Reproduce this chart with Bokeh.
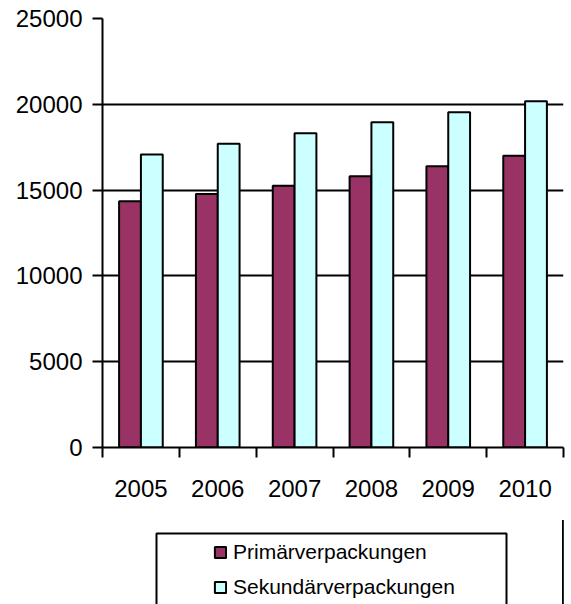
from bokeh.plotting import figure
from bokeh.models import (ColumnDataSource, Range1d, FixedTicker, Legend, LegendItem,
                          BoxAnnotation)
from bokeh.layouts import column
from bokeh.embed import file_html
from bokeh.resources import INLINE
import numpy as np

years = ["2005", "2006", "2007", "2008", "2009", "2010"]
primaer = [14350, 14780, 15250, 15810, 16390, 17000]
sekundaer = [17070, 17700, 18310, 18950, 19540, 20180]
y_ticks = [0, 5000, 10000, 15000, 20000, 25000]
series_names = ["Primärverpackungen", "Sekundärverpackungen"]
series_colors = ["#993366", "#CCFFFF"]

idx = np.arange(len(years))
bar_w = 0.284
src = ColumnDataSource(dict(
    xp=idx + 0.5 - bar_w / 2,
    xs=idx + 0.5 + bar_w / 2,
    prim=primaer,
    sek=sekundaer,
))

p = figure(width=571, height=520, x_range=Range1d(0, len(years)), y_range=Range1d(0, 25000),
           output_backend="svg", toolbar_location=None,
           min_border_left=102, min_border_right=8, min_border_top=18, min_border_bottom=73)
p.outline_line_color = None
p.background_fill_color = "white"
p.border_fill_color = "white"

# grid
p.xgrid.visible = False
p.ygrid.ticker = FixedTicker(ticks=y_ticks)
p.ygrid.grid_line_color = "black"
p.ygrid.grid_line_width = 2

# y axis
yax = p.yaxis[0]
yax.ticker = FixedTicker(ticks=y_ticks)
yax.axis_line_color = "black"
yax.axis_line_width = 2
yax.major_tick_line_width = 2
yax.major_tick_out = 10
yax.major_tick_in = 0
yax.minor_tick_out = 0
yax.minor_tick_in = 0
yax.major_label_standoff = 10
yax.major_label_text_font = "Liberation Sans"
yax.major_label_text_font_size = "24px"
yax.major_label_text_color = "black"

# x axis: labels at centres, ticks at category boundaries
xax = p.xaxis[0]
xax.ticker = FixedTicker(ticks=list(idx + 0.5), minor_ticks=list(range(len(years) + 1)))
xax.major_label_overrides = {float(i + 0.5): y for i, y in enumerate(years)}
xax.axis_line_color = "black"
xax.axis_line_width = 2
xax.major_tick_out = 0
xax.major_tick_in = 0
xax.minor_tick_out = 10
xax.minor_tick_in = 0
xax.minor_tick_line_width = 2
xax.minor_tick_line_color = "black"
xax.major_label_standoff = 22
xax.major_label_text_font = "Liberation Sans"
xax.major_label_text_font_size = "24px"
xax.major_label_text_color = "black"

p.vbar(x="xp", top="prim", width=bar_w, source=src, fill_color=series_colors[0],
       line_color="black", line_width=2)
p.vbar(x="xs", top="sek", width=bar_w, source=src, fill_color=series_colors[1],
       line_color="black", line_width=2)

# legend panel (separate canvas so the legend box can run off the bottom edge)
pl = figure(width=571, height=84, output_backend="svg", toolbar_location=None,
            x_axis_location=None, y_axis_location=None,
            x_range=Range1d(-20, -19), y_range=Range1d(0, 1),
            min_border_left=0, min_border_right=0, min_border_top=0, min_border_bottom=0)
pl.outline_line_color = None
pl.grid.visible = False
pl.background_fill_color = "white"
pl.border_fill_color = "white"
items = []
for name, col, key in zip(series_names, series_colors, ["prim", "sek"]):
    # same data, but outside this panel's range: only the legend swatch shows
    r = pl.vbar(x="xp", top=key, width=bar_w, source=src, fill_color=col,
                line_color="black", line_width=2)
    items.append(LegendItem(label=name, renderers=[r]))

box = BoxAnnotation(left=156, right=506, top=13, bottom=300,
                    left_units="canvas", right_units="canvas",
                    top_units="canvas", bottom_units="canvas",
                    fill_alpha=0, line_color="black", line_alpha=1.0, line_width=2)
pl.add_layout(box)

legend = Legend(items=items, location=(111, 5))
legend.border_line_color = None
legend.background_fill_alpha = 0
legend.padding = 0
legend.spacing = 10
legend.margin = 0
legend.glyph_width = 14
legend.glyph_height = 14
legend.label_height = 25
legend.label_standoff = 6
legend.label_text_font = "Liberation Sans"
legend.label_text_font_size = "21px"
legend.label_text_color = "black"
pl.add_layout(legend)

open("out.html", "w").write(file_html(column(p, pl, spacing=0), INLINE))
